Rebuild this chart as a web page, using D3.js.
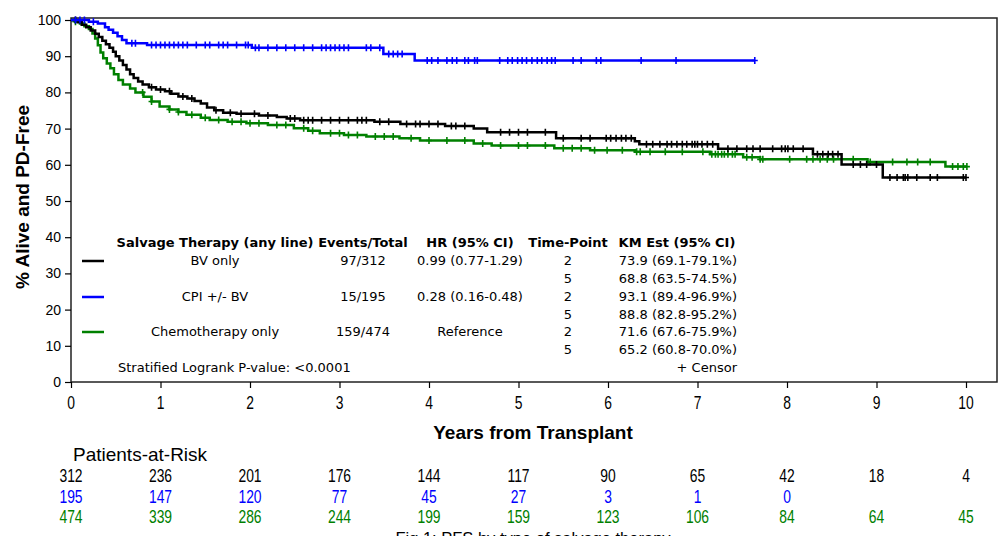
<!DOCTYPE html>
<html><head><meta charset="utf-8">
<script src="https://cdn.jsdelivr.net/npm/d3@7"></script>
<style>
body{margin:0;background:#fff;}
svg{display:block;}
.lib{font-family:"Liberation Sans",Arial,sans-serif;}
.leg{font-family:"DejaVu Sans",Verdana,sans-serif;font-size:13px;}
</style></head>
<body>
<svg id="c" width="1005" height="536"></svg>
<script>
// ---- data ----
const xTicks = [0,1,2,3,4,5,6,7,8,9,10];
const yTicks = [0,10,20,30,40,50,60,70,80,90,100];

const bvTimes = [0,0.08,0.12,0.17,0.22,0.27,0.31,0.35,0.39,0.43,0.47,0.5,0.54,0.58,0.62,0.66,0.7,0.75,0.8,0.87,0.95,1.05,1.12,1.2,1.3,1.38,1.45,1.52,1.6,1.7,1.85,2.1,2.3,2.41,2.56,3.39,3.68,4.18,4.5,4.65,5.42,6.3,6.35,7.23,8.29,8.61,9.07,10.0];
const bvSurv  = [100,99.4,98.7,98.0,97.1,96.2,95.3,94.3,93.3,92.3,91.2,90.0,88.8,87.6,86.3,85.0,84.0,83.0,82.2,81.4,80.8,80.3,79.6,78.9,78.3,77.6,76.9,75.8,75.1,74.4,74.1,73.6,73.2,72.8,72.3,71.9,71.3,70.7,70.0,69.0,67.3,66.5,65.7,64.4,62.9,60.1,56.5,56.5];
const bvCensor = [0.05,0.9,1.0,1.1,1.25,1.35,1.62,1.78,1.9,2.05,2.2,2.45,2.5,2.6,2.65,2.7,2.8,2.9,3.0,3.1,3.2,3.25,3.3,3.45,3.55,3.75,3.85,3.9,4.0,4.1,4.25,4.3,4.4,4.8,4.9,5.0,5.1,5.3,5.5,5.7,5.8,5.98,6.03,6.09,6.15,6.2,6.26,6.43,6.5,6.58,6.66,6.71,6.77,6.83,6.88,6.94,6.97,7.0,7.05,7.11,7.17,7.34,7.44,7.55,7.62,7.7,7.84,7.94,7.98,8.01,8.07,8.18,8.34,8.4,8.46,8.51,8.57,8.74,8.82,8.89,9.0,9.15,9.23,9.3,9.32,9.35,9.45,9.6,9.68,9.97,10.0];

const cpiTimes = [0,0.2,0.3,0.38,0.42,0.47,0.52,0.57,0.62,0.85,2.02,3.49,3.84,7.64];
const cpiSurv  = [100,99.5,99.0,98.0,97.3,96.5,95.5,94.5,93.6,93.1,92.3,90.6,88.8,88.8];
const cpiCensor = [0.05,0.1,0.15,0.25,0.68,0.72,0.9,0.95,1.0,1.05,1.1,1.15,1.2,1.25,1.3,1.4,1.5,1.55,1.65,1.7,1.75,1.85,1.95,1.98,2.06,2.1,2.2,2.3,2.4,2.5,2.6,2.7,2.8,2.85,2.9,2.95,3.0,3.05,3.1,3.3,3.35,3.45,3.55,3.6,3.65,3.7,3.98,4.03,4.1,4.2,4.26,4.31,4.4,4.44,4.51,4.54,4.79,4.88,4.93,4.99,5.04,5.09,5.15,5.21,5.26,5.32,5.37,5.41,5.61,5.7,5.87,5.92,6.37,6.76,7.64];

const chemoTimes = [0,0.05,0.1,0.15,0.2,0.24,0.27,0.3,0.33,0.36,0.4,0.44,0.48,0.53,0.58,0.66,0.72,0.81,0.9,0.99,1.1,1.2,1.29,1.45,1.55,1.75,1.96,2.2,2.49,2.65,2.78,3.05,3.3,3.67,3.9,4.5,4.7,5.4,5.8,6.3,7.14,7.51,7.7,8.9,9.77,10.01];
const chemoSurv  = [100,99.5,99.0,98.3,97.5,96.3,94.9,93.0,91.0,89.4,88.0,86.7,85.0,83.4,82.2,81.1,80.0,78.8,77.5,76.1,75.3,74.6,73.8,73.0,72.4,71.9,71.5,71.0,70.1,69.4,68.7,68.2,67.8,67.3,66.7,65.9,65.3,64.6,64.0,63.6,62.9,62.1,61.5,60.8,59.5,59.5];
const chemoCensor = [0.05,0.8,0.9,1.1,1.2,1.35,1.5,1.65,1.8,1.9,2.0,2.1,2.3,2.4,2.6,2.7,2.9,3.0,3.1,3.2,3.4,3.5,3.6,3.8,4.0,4.2,4.4,4.6,4.8,5.0,5.1,5.3,5.5,5.6,5.7,5.85,5.99,6.16,6.32,6.36,6.47,6.64,6.83,7.06,7.16,7.2,7.23,7.27,7.3,7.34,7.39,7.42,7.55,7.61,7.7,7.73,8.03,8.22,8.29,8.37,8.45,8.52,8.74,8.93,9.18,9.34,9.46,9.6,9.85,9.91,9.97,10.01];

const riskBV    = [312,236,201,176,144,117,90,65,42,18,4];
const riskCPI   = [195,147,120,77,45,27,3,1,0];
const riskChemo = [474,339,286,244,199,159,123,106,84,64,45];

const groupNames = ["BV only","CPI +/- BV","Chemotherapy only"];
const eventsTotal = ["97/312","15/195","159/474"];
const hrText = ["0.99 (0.77-1.29)","0.28 (0.16-0.48)","Reference"];
const timePoints = ["2","5","2","5","2","5"];
const kmEst = ["73.9 (69.1-79.1%)","68.8 (63.5-74.5%)","93.1 (89.4-96.9%)","88.8 (82.8-95.2%)","71.6 (67.6-75.9%)","65.2 (60.8-70.0%)"];
const colors = ["#000000","#0000ff","#008000"];

// ---- chart ----
const svg = d3.select("#c");
const x = d3.scaleLinear().domain([0,10]).range([71,966]);
const y = d3.scaleLinear().domain([0,100]).range([382,20]);
const NARROW = 0.73;

// frame
svg.append("rect").attr("x",71).attr("y",18).attr("width",997-71).attr("height",382-18)
  .attr("fill","none").attr("stroke","#222").attr("stroke-width",1.5);

// y axis
const ya = svg.append("g").attr("transform","translate(71,0)")
  .call(d3.axisLeft(y).tickValues(yTicks).tickSize(6).tickPadding(4));
ya.select(".domain").remove();
ya.selectAll("line").attr("stroke","#000").attr("stroke-width",1.2);
ya.selectAll("text").attr("font-family","'Liberation Sans',Arial,sans-serif").attr("font-size",14).attr("fill","#000");

// x axis
const xa = svg.append("g").attr("transform","translate(0,382)")
  .call(d3.axisBottom(x).tickValues(xTicks).tickSize(6).tickFormat(""));
xa.select(".domain").remove();
xa.selectAll("line").attr("stroke","#000").attr("stroke-width",1.2);
svg.append("g").selectAll("text").data(xTicks).enter().append("text").attr("class","lib")
  .attr("transform",d=>`translate(${x(d)},409) scale(${NARROW},1)`).attr("text-anchor","middle")
  .attr("font-size",19).attr("fill","#000").text(d=>d);

// axis titles
svg.append("text").attr("transform","translate(29,197) rotate(-90)").attr("text-anchor","middle")
  .attr("class","lib").attr("font-weight","bold").attr("font-size",19)
  .text("% Alive and PD-Free");
svg.append("text").attr("class","lib").attr("x",533).attr("y",439).attr("text-anchor","middle")
  .attr("font-weight","bold").attr("font-size",19).text("Years from Transplant");

// curves
const series = [
  {t:bvTimes,s:bvSurv,c:bvCensor,col:colors[0]},
  {t:cpiTimes,s:cpiSurv,c:cpiCensor,col:colors[1]},
  {t:chemoTimes,s:chemoSurv,c:chemoCensor,col:colors[2]}
];
const line = d3.line().x(d=>x(d[0])).y(d=>y(d[1])).curve(d3.curveStepAfter);
function survAt(ser,t){
  let v = ser.s[0];
  for(let i=0;i<ser.t.length;i++){ if(ser.t[i]<=t) v=ser.s[i]; }
  return v;
}
[2,0,1].forEach(i=>{
  const ser = series[i];
  const pts = ser.t.map((t,j)=>[t,ser.s[j]]);
  const g = svg.append("g");
  g.append("path").attr("d",line(pts)).attr("fill","none").attr("stroke",ser.col).attr("stroke-width",2.5);
  g.selectAll("path.cen").data(ser.c).enter().append("path").attr("class","cen")
    .attr("d",t=>{const cx=x(t),cy=y(survAt(ser,t));return `M${cx-3},${cy}H${cx+3}M${cx},${cy-3.5}V${cy+3.5}`;})
    .attr("stroke",ser.col).attr("stroke-width",1.6).attr("fill","none");
});

// legend table
const leg = svg.append("g").attr("class","leg").attr("fill","#000");
const hdrY = 247;
const cols = {name:215, ev:363, hr:470, tp:568, km:677};
[["Salvage Therapy (any line)",cols.name],["Events/Total",cols.ev],["HR (95% CI)",cols.hr],["Time-Point",cols.tp],["KM Est (95% CI)",cols.km]]
  .forEach(([t,cx])=>leg.append("text").attr("x",cx).attr("y",hdrY).attr("text-anchor","middle").attr("font-weight","bold").text(t));
const rowY = [265,301,336];
groupNames.forEach((n,i)=>{
  leg.append("line").attr("x1",82).attr("x2",104).attr("y1",rowY[i]-4).attr("y2",rowY[i]-4).attr("stroke",colors[i]).attr("stroke-width",2.5);
  leg.append("text").attr("x",cols.name).attr("y",rowY[i]).attr("text-anchor","middle").text(n);
  leg.append("text").attr("x",cols.ev).attr("y",rowY[i]).attr("text-anchor","middle").text(eventsTotal[i]);
  leg.append("text").attr("x",cols.hr).attr("y",rowY[i]).attr("text-anchor","middle").text(hrText[i]);
});
const kmY = [265,283,301,319,336,354];
timePoints.forEach((tp,i)=>{
  leg.append("text").attr("x",cols.tp).attr("y",kmY[i]).attr("text-anchor","middle").text(tp);
  leg.append("text").attr("x",737).attr("y",kmY[i]).attr("text-anchor","end").text(kmEst[i]);
});
leg.append("text").attr("x",118).attr("y",372).text("Stratified Logrank P-value: <0.0001");
leg.append("text").attr("x",737).attr("y",372).attr("text-anchor","end").text("+  Censor");

// patients at risk
svg.append("text").attr("class","lib").attr("x",73).attr("y",461).attr("font-size",19).text("Patients-at-Risk");
const riskRows = [riskBV,riskCPI,riskChemo];
const riskY = [482,503,523];
riskRows.forEach((r,i)=>{
  svg.append("g").selectAll("text").data(r).enter().append("text").attr("class","lib")
    .attr("transform",(d,j)=>`translate(${x(xTicks[j])},${riskY[i]}) scale(${NARROW},1)`).attr("text-anchor","middle")
    .attr("font-size",19).attr("fill",colors[i]).text(d=>d);
});

// caption (partly below the bottom edge, as in the reference)
svg.append("text").attr("class","lib").attr("x",533).attr("y",544).attr("text-anchor","middle")
  .attr("font-size",16.5).attr("fill","#000").text("Fig 1: PFS by type of salvage therapy");
</script>
</body></html>
